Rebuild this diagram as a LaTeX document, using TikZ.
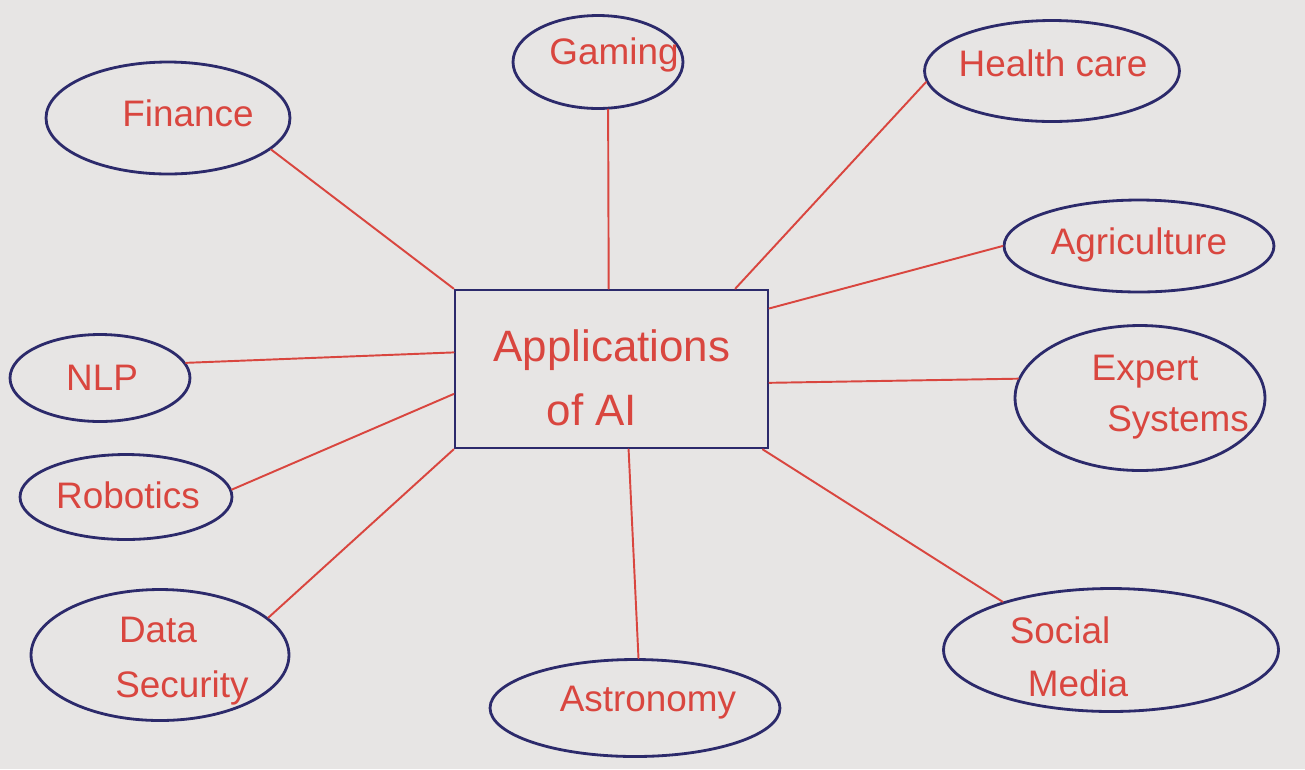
\documentclass[tikz,border=0pt]{standalone}
\usepackage{fontspec}
\setmainfont{Liberation Sans}
\usetikzlibrary{shapes.geometric}
\definecolor{paper}{HTML}{E7E5E4}
\definecolor{ink}{HTML}{2C2A6B}
\definecolor{pen}{HTML}{D9463F}
\tikzset{
  topic/.style={ellipse, draw=ink, line width=1.6pt, inner sep=0pt},
  hub/.style={rectangle, draw=ink, line width=1.6pt, inner sep=0pt,
              minimum width=6.26cm, minimum height=3.16cm},
  word/.style={text=pen, font=\fontsize{21}{26}\selectfont, inner sep=0pt},
  bigword/.style={text=pen, font=\fontsize{25}{30}\selectfont, inner sep=0pt},
  link/.style={draw=pen, line width=1.1pt, line cap=round}
}
\begin{document}
\begin{tikzpicture}[x=0.02cm, y=-0.02cm]
  % paper
  \fill[paper] (0,0) rectangle (1305,769);
  \useasboundingbox (0,0) rectangle (1305,769);

  % central box
  \node[hub] (app) at (611.5,369) {};
  \node[bigword] (app-a) at (612,350) {Applications};
  \node[bigword] (app-b) at (592,410) {of AI};

  % surrounding topics
  \node[topic, minimum width=4.88cm, minimum height=2.24cm] (fin) at (168,118) {};
  \node[topic, minimum width=3.40cm, minimum height=1.86cm] (gam) at (598,62) {};
  \node[topic, minimum width=5.10cm, minimum height=2.02cm] (hc)  at (1052,71) {};
  \node[topic, minimum width=5.40cm, minimum height=1.84cm] (ag)  at (1139,246) {};
  \node[topic, minimum width=5.00cm, minimum height=2.90cm] (ex)  at (1140,398) {};
  \node[topic, minimum width=3.60cm, minimum height=1.74cm] (nlp) at (100,378) {};
  \node[topic, minimum width=4.24cm, minimum height=1.70cm] (rob) at (126,497) {};
  \node[topic, minimum width=5.16cm, minimum height=2.62cm] (ds)  at (160,655) {};
  \node[topic, minimum width=5.80cm, minimum height=1.94cm] (ast) at (635,708) {};
  \node[topic, minimum width=6.70cm, minimum height=2.46cm] (soc) at (1111,650) {};

  % topic labels
  \node[word] (fin-t) at (188,113) {Finance};
  \node[word] (gam-t) at (614,55) {Gaming};
  \node[word] (hc-t)  at (1053,63) {Health care};
  \node[word] (ag-t)  at (1139,245) {Agriculture};
  \node[word] (ex-a)  at (1145,372) {Expert};
  \node[word] (ex-b)  at (1178,422) {Systems};
  \node[word] (nlp-t) at (102,378) {NLP};
  \node[word] (rob-t) at (128,495) {Robotics};
  \node[word] (ds-a)  at (158,630) {Data};
  \node[word] (ds-b)  at (182,688) {Security};
  \node[word] (ast-t) at (648,703) {Astronomy};
  \node[word] (soc-a) at (1060,630) {Social};
  \node[word] (soc-b) at (1078,683) {Media};

  % connectors from the box to each topic
  \draw[link] (app.north west) -- (fin.-17);
  \draw[link] (app.92) -- (gam.-78);
  \draw[link] (app.33) -- (hc.185);
  \draw[link] (app.21) -- (ag.west);
  \draw[link] (app.-5) -- (ex.171);
  \draw[link] (app.174) -- (nlp.10);
  \draw[link] (app.189) -- (rob.4);
  \draw[link] (app.south west) -- (ds.19);
  \draw[link] (app.-78) -- (ast.86);
  \draw[link] (app.-28) -- (soc.156);
\end{tikzpicture}
\end{document}
